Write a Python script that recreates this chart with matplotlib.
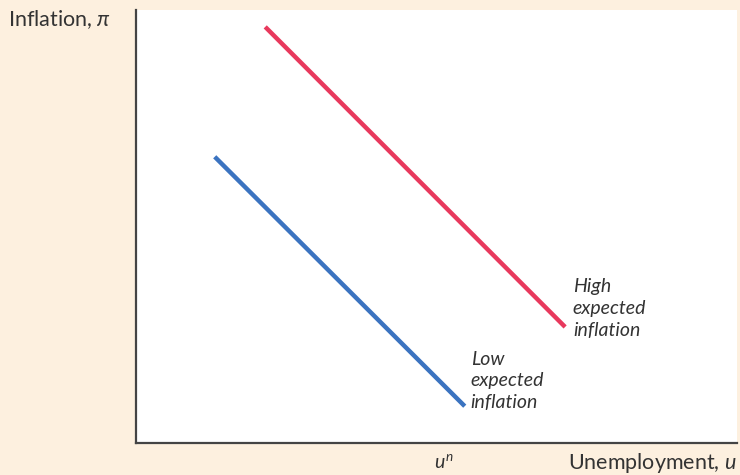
import matplotlib
matplotlib.use("Agg")
import matplotlib.pyplot as plt

plt.rcParams['font.family'] = ['Lato', 'DejaVu Sans']
plt.rcParams['mathtext.fontset'] = 'custom'
plt.rcParams['mathtext.it'] = 'Lato:italic'
plt.rcParams['mathtext.rm'] = 'Lato'

# Data (abstract units, axes 0..10)
low_x = [1.31, 5.47]
low_y = [6.61, 0.85]
high_x = [2.15, 7.14]
high_y = [9.61, 2.68]
natural_rate_x = 5.12
tick_label = r"$u^n$"
x_label = "Unemployment, "
y_label = "Inflation, "
low_label = "Low\nexpected\ninflation"
high_label = "High\nexpected\ninflation"

bg = '#fdf0df'
text_col = '#333333'
fig = plt.figure(figsize=(7.4, 4.75), dpi=100, facecolor=bg)
W, H = 740, 475
left, right, top, bottom = 136, 737, 10, 443
ax = fig.add_axes([left / W, 1 - bottom / H, (right - left) / W, (bottom - top) / H])
ax.set_facecolor('white')
ax.set_xlim(0, 10)
ax.set_ylim(0, 10)

ax.plot(low_x, low_y, color='#3b73c0', lw=3.2, solid_capstyle='butt')
ax.plot(high_x, high_y, color='#e8395d', lw=3.2, solid_capstyle='butt')

for s in ['top', 'right']:
    ax.spines[s].set_visible(False)
for s in ['left', 'bottom']:
    ax.spines[s].set_color('#444444')
    ax.spines[s].set_linewidth(1.6)

ax.set_xticks([natural_rate_x])
ax.set_xticklabels([tick_label], fontsize=14, color=text_col)
ax.tick_params(axis='x', length=0, pad=7)
ax.set_yticks([])

ax.text(low_x[1] + 0.1, low_y[1] - 0.12, low_label, style='italic', fontsize=14,
        color=text_col, ha='left', va='bottom', linespacing=1.35)
ax.text(high_x[1] + 0.13, high_y[1] - 0.28, high_label, style='italic', fontsize=14,
        color=text_col, ha='left', va='bottom', linespacing=1.35)

fig.text(737 / W, 1 - 463 / H, x_label + r"$u$", fontsize=15.5, color=text_col,
         ha='right', va='center')
fig.text(8 / W, 1 - 20 / H, y_label + r"$\pi$", fontsize=15.5, color=text_col,
         ha='left', va='center')

fig.savefig('out.png', dpi=100, facecolor=bg)
